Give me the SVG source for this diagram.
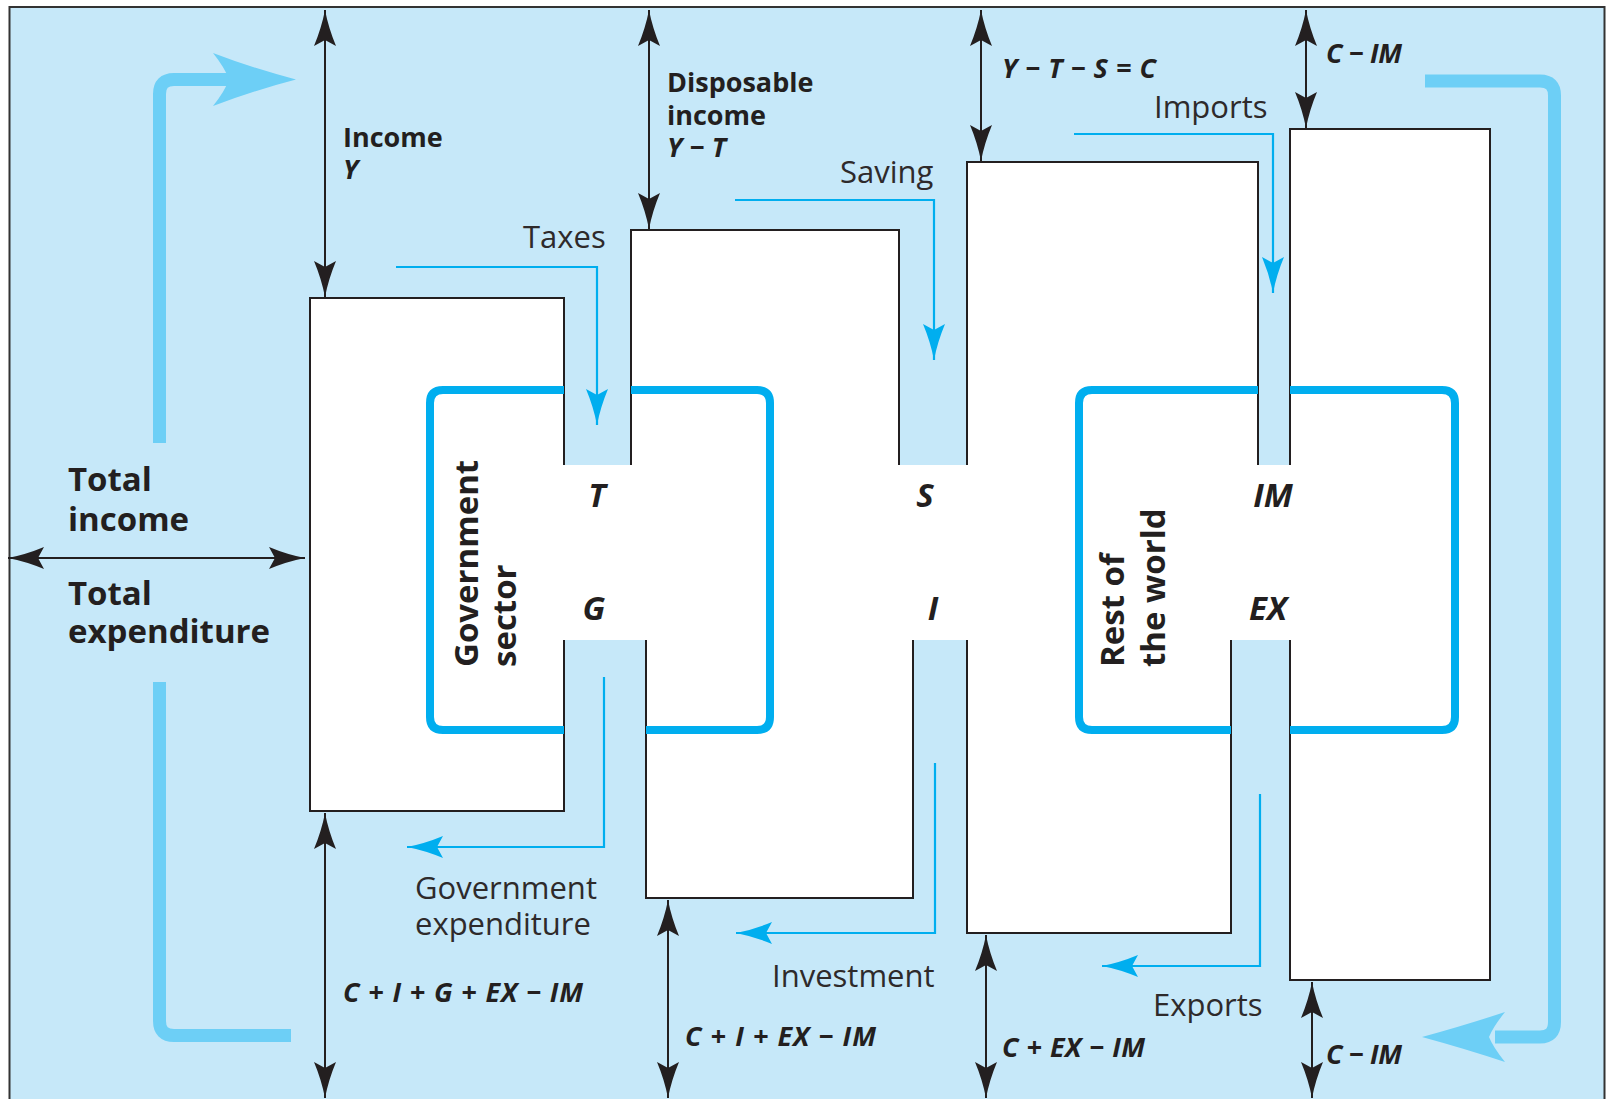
<svg xmlns="http://www.w3.org/2000/svg" width="1608" height="1099" viewBox="0 0 1608 1099">
<style>
.t{font-family:"Open Sans","Noto Sans","Liberation Sans",sans-serif;fill:#231F20}
.b{font-weight:700;font-size:27px}
.bi{font-weight:700;font-style:italic;font-size:27px}
.big{font-weight:700;font-size:33px}
.mid{font-weight:700;font-style:italic;font-size:33px;text-anchor:middle}
.reg{font-weight:400;font-size:31px;fill:#2E2A2B}
.out{fill:none;stroke:#231F20;stroke-width:2}
.frame{fill:none;stroke:#00AEEF;stroke-width:8}
.dim{stroke:#231F20;stroke-width:2;fill:none;marker-start:url(#ah);marker-end:url(#ah)}
.flow{stroke:#00AEEF;stroke-width:2.2;fill:none;marker-end:url(#bh)}
.bigflow{stroke:#6DCFF6;stroke-width:13;fill:none}
</style>
<defs>
<marker id="ah" viewBox="0 0 36 22" refX="36" refY="11" markerWidth="36" markerHeight="22" markerUnits="userSpaceOnUse" orient="auto-start-reverse">
<path d="M36,11 Q18,7.5 0,0 L6,11 L0,22 Q18,14.5 36,11 Z" fill="#231F20"/>
</marker>
<marker id="bh" viewBox="0 0 36 22" refX="36" refY="11" markerWidth="36" markerHeight="22" markerUnits="userSpaceOnUse" orient="auto">
<path d="M36,11 Q18,7.5 0,0 L6,11 L0,22 Q18,14.5 36,11 Z" fill="#00AEEF"/>
</marker>
</defs>
<rect x="0" y="0" width="1608" height="1099" fill="#FFFFFF"/>
<rect x="9.5" y="7" width="1595" height="1100" fill="#C6E8F9" stroke="#333333" stroke-width="2"/>

<g id="white-areas" fill="#FFFFFF">
<rect x="310" y="298" width="254" height="513"/>
<rect x="631" y="230" width="268" height="236"/>
<rect x="646" y="639" width="267" height="259"/>
<rect x="967" y="162" width="291" height="304"/>
<rect x="967" y="639" width="264" height="294"/>
<rect x="1290" y="129" width="200" height="851"/>
<rect x="310" y="465" width="1180" height="175"/>
</g>

<g id="node-block-1"><path class="out" d="M564,465 V298 H310 V811 H564 V640"/></g>
<g id="node-block-2"><path class="out" d="M631,465 V230 H899 V465 M646,640 V898 H913 V640"/></g>
<g id="node-block-3"><path class="out" d="M967,465 V162 H1258 V465 M967,640 V933 H1231 V640"/></g>
<g id="node-block-4"><path class="out" d="M1290,465 V129 H1490 V980 H1290 V640"/></g>

<g id="node-government-sector">
<path class="frame" d="M631,390 H757 Q770,390 770,403 V717 Q770,730 757,730 H646 M564,730 H443 Q430,730 430,717 V403 Q430,390 443,390 H564"/>
<text class="t big" transform="translate(478,667) rotate(-90)">Government</text>
<text class="t big" transform="translate(516,667) rotate(-90)">sector</text>
</g>

<g id="node-rest-of-world">
<path class="frame" d="M1290,390 H1442 Q1455,390 1455,403 V717 Q1455,730 1442,730 H1290 M1231,730 H1092 Q1079,730 1079,717 V403 Q1079,390 1092,390 H1258"/>
<text class="t big" transform="translate(1124,667) rotate(-90)">Rest of</text>
<text class="t big" transform="translate(1165,667) rotate(-90)">the world</text>
</g>

<g id="connectors">
<path class="bigflow" d="M159.5,443 V94 Q159.5,79.5 174,79.5 H232"/>
<path d="M296,79.5 Q252,68 213,53 Q225,68 229,79.5 Q225,91 213,106 Q252,91 296,79.5 Z" fill="#6DCFF6"/>
<path class="bigflow" d="M159.5,682 V1021 Q159.5,1035.5 174,1035.5 H291"/>
<path class="bigflow" d="M1425,81 H1540 Q1554.5,81 1554.5,95.5 V1022 Q1554.5,1037 1540,1037 H1495"/>
<path d="M1422,1037 Q1466,1025 1505,1012 Q1493,1027 1489,1037 Q1493,1047 1505,1062 Q1466,1049 1422,1037 Z" fill="#6DCFF6"/>

<path class="flow" d="M396,267 H597 V425"/>
<path class="flow" d="M735,200 H934 V360"/>
<path class="flow" d="M1074,134 H1273 V293"/>
<path class="flow" d="M604,677 V847 H407"/>
<path class="flow" d="M935,763 V933 H736"/>
<path class="flow" d="M1260,794 V966 H1102"/>

<line class="dim" x1="325" y1="10" x2="325" y2="297"/>
<line class="dim" x1="649" y1="10" x2="649" y2="229"/>
<line class="dim" x1="981" y1="10" x2="981" y2="161"/>
<line class="dim" x1="1306" y1="10" x2="1306" y2="128"/>
<line class="dim" x1="8" y1="558" x2="305" y2="558"/>
<line class="dim" x1="325" y1="813" x2="325" y2="1098"/>
<line class="dim" x1="668" y1="900" x2="668" y2="1098"/>
<line class="dim" x1="986" y1="935" x2="986" y2="1098"/>
<line class="dim" x1="1312" y1="982" x2="1312" y2="1098"/>
</g>

<g id="labels">
<text class="t big" x="68" y="491">Total</text>
<text class="t big" x="68" y="531">income</text>
<text class="t big" x="68" y="605">Total</text>
<text class="t big" x="68" y="643">expenditure</text>

<text class="t b" x="343" y="147">Income</text>
<text class="t bi" x="343" y="179">Y</text>
<text class="t b" x="667" y="92">Disposable</text>
<text class="t b" x="667" y="125">income</text>
<text class="t bi" x="667" y="157" textLength="59" lengthAdjust="spacing">Y − T</text>
<text class="t bi" x="1002" y="78" textLength="154" lengthAdjust="spacing">Y − T − S = C</text>
<text class="t bi" x="1326" y="63" textLength="76" lengthAdjust="spacing">C − IM</text>

<text class="t reg" x="523" y="248">Taxes</text>
<text class="t reg" x="840" y="183">Saving</text>
<text class="t reg" x="1154" y="118">Imports</text>

<text class="t mid" x="597" y="507">T</text>
<text class="t mid" x="594" y="620">G</text>
<text class="t mid" x="925" y="507">S</text>
<text class="t mid" x="933" y="620">I</text>
<text class="t mid" x="1273" y="507">IM</text>
<text class="t mid" x="1268" y="620">EX</text>

<text class="t reg" x="415" y="899">Government</text>
<text class="t reg" x="415" y="935">expenditure</text>
<text class="t reg" x="772" y="987">Investment</text>
<text class="t reg" x="1153" y="1016">Exports</text>

<text class="t bi" x="343" y="1002" textLength="240" lengthAdjust="spacing">C + I + G + EX − IM</text>
<text class="t bi" x="685" y="1046" textLength="191" lengthAdjust="spacing">C + I + EX − IM</text>
<text class="t bi" x="1002" y="1057" textLength="143" lengthAdjust="spacing">C + EX − IM</text>
<text class="t bi" x="1326" y="1064" textLength="76" lengthAdjust="spacing">C − IM</text>
</g>
</svg>
